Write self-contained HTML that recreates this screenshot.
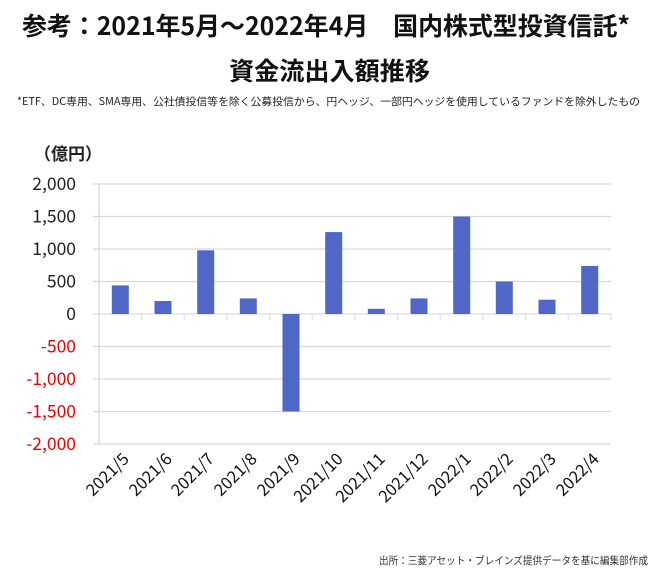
<!DOCTYPE html>
<html><head><meta charset="utf-8"><style>
html,body{margin:0;padding:0;background:#fff;}
svg{display:block;}
text{font-family:"Noto Sans CJK JP","Liberation Sans",sans-serif;}
</style></head><body>
<svg width="660" height="586" viewBox="0 0 660 586" xmlns="http://www.w3.org/2000/svg">
<text x="22" y="35" font-size="25" font-weight="bold" textLength="608" lengthAdjust="spacingAndGlyphs" fill="#111">参考：2021年5月～2022年4月　国内株式型投資信託*</text>
<text x="229" y="80" font-size="25" font-weight="bold" textLength="201" lengthAdjust="spacingAndGlyphs" fill="#111">資金流出入額推移</text>
<text x="17" y="105" font-size="10.5" textLength="623" lengthAdjust="spacingAndGlyphs" fill="#222">*ETF、DC専用、SMA専用、公社債投信等を除く公募投信から、円ヘッジ、一部円ヘッジを使用しているファンドを除外したもの</text>
<text x="34" y="160" font-size="17" font-weight="bold" fill="#222">（億円）</text>
<g stroke="#d9d9d9" stroke-width="1.3">
<line x1="93" y1="184" x2="611" y2="184"/>
<line x1="93" y1="216.5" x2="611" y2="216.5"/>
<line x1="93" y1="249" x2="611" y2="249"/>
<line x1="93" y1="281.5" x2="611" y2="281.5"/>
<line x1="93" y1="346.5" x2="611" y2="346.5"/>
<line x1="93" y1="379" x2="611" y2="379"/>
<line x1="93" y1="411.5" x2="611" y2="411.5"/>
<line x1="93" y1="444" x2="611" y2="444"/>
<line x1="99" y1="184" x2="99" y2="444"/>
<line x1="93" y1="314" x2="611" y2="314"/>
</g>
<g stroke="#d9d9d9" stroke-width="1">
<line x1="141.7" y1="314" x2="141.7" y2="320"/><line x1="184.3" y1="314" x2="184.3" y2="320"/>
<line x1="227" y1="314" x2="227" y2="320"/><line x1="269.7" y1="314" x2="269.7" y2="320"/>
<line x1="312.3" y1="314" x2="312.3" y2="320"/><line x1="355" y1="314" x2="355" y2="320"/>
<line x1="397.7" y1="314" x2="397.7" y2="320"/><line x1="440.3" y1="314" x2="440.3" y2="320"/>
<line x1="483" y1="314" x2="483" y2="320"/><line x1="525.7" y1="314" x2="525.7" y2="320"/>
<line x1="568.3" y1="314" x2="568.3" y2="320"/><line x1="611" y1="314" x2="611" y2="320"/>
</g>
<g font-size="17.5" text-anchor="end">
<text x="76" y="190" fill="#222">2,000</text>
<text x="76" y="222.5" fill="#222">1,500</text>
<text x="76" y="255" fill="#222">1,000</text>
<text x="76" y="287.5" fill="#222">500</text>
<text x="76" y="320" fill="#222">0</text>
<text x="76" y="352.5" fill="#e00">-500</text>
<text x="76" y="385" fill="#e00">-1,000</text>
<text x="76" y="417.5" fill="#e00">-1,500</text>
<text x="76" y="450" fill="#e00">-2,000</text>
</g>
<g fill="#4f68c7">
<rect x="111.8" y="285.4" width="17" height="28.6"/>
<rect x="154.5" y="301" width="17" height="13"/>
<rect x="197.2" y="250.3" width="17" height="63.7"/>
<rect x="239.8" y="298.4" width="17" height="15.6"/>
<rect x="282.5" y="314" width="17" height="97.5"/>
<rect x="325.2" y="232.1" width="17" height="81.9"/>
<rect x="367.8" y="308.8" width="17" height="5.2"/>
<rect x="410.5" y="298.4" width="17" height="15.6"/>
<rect x="453.2" y="216.5" width="17" height="97.5"/>
<rect x="495.8" y="281.5" width="17" height="32.5"/>
<rect x="538.5" y="299.7" width="17" height="14.3"/>
<rect x="581.2" y="265.9" width="17" height="48.1"/>
</g>
<g font-size="16.5" text-anchor="end" fill="#111">
<text transform="translate(130,460) rotate(-45)">2021/5</text>
<text transform="translate(173,460) rotate(-45)">2021/6</text>
<text transform="translate(215,460) rotate(-45)">2021/7</text>
<text transform="translate(258,460) rotate(-45)">2021/8</text>
<text transform="translate(301,460) rotate(-45)">2021/9</text>
<text transform="translate(344,460) rotate(-45)">2021/10</text>
<text transform="translate(386,460) rotate(-45)">2021/11</text>
<text transform="translate(429,460) rotate(-45)">2021/12</text>
<text transform="translate(472,460) rotate(-45)">2022/1</text>
<text transform="translate(514,460) rotate(-45)">2022/2</text>
<text transform="translate(557,460) rotate(-45)">2022/3</text>
<text transform="translate(600,460) rotate(-45)">2022/4</text>
</g>
<text x="379" y="564" font-size="10.5" textLength="269" lengthAdjust="spacingAndGlyphs" fill="#333">出所：三菱アセット・ブレインズ提供データを基に編集部作成</text>
</svg>
</body></html>
